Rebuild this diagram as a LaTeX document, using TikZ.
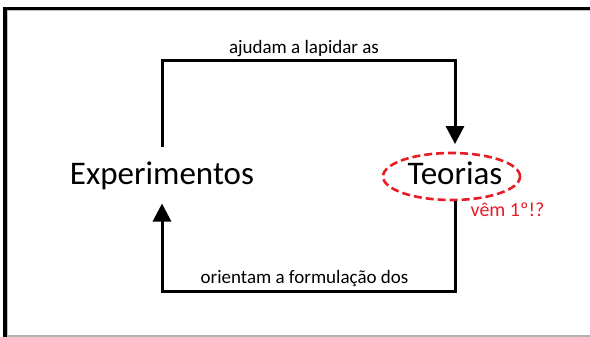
\documentclass[tikz,border=0pt]{standalone}
\usepackage{fontspec}
\setmainfont{Carlito}
\usetikzlibrary{arrows.meta,shapes.geometric}
\definecolor{myred}{RGB}{232,28,36}
\tikzset{
  loopline/.style={line width=3pt, line join=miter},
  tip/.style={-{Triangle[length=18pt,width=18pt]}},
  bigtext/.style={font=\fontsize{33}{40}\selectfont, anchor=base, inner xsep=0pt},
  lbl/.style={font=\fontsize{19}{23}\selectfont, anchor=base, inner sep=0pt},
  frame/.style={line width=3.5pt, black},
}
\begin{document}
\begin{tikzpicture}[x=1pt,y=-1pt]
\useasboundingbox (0,0) rectangle (590,337);
% frame
\draw[gray!60, line width=1.2pt] (5,336) -- (590,336);
\draw[gray!50, line width=0.8pt] (7.2,336) -- (7.2,10.6) -- (590,10.6);
\draw[frame] (4.8,337) -- (4.8,8.5) -- (590,8.5);
% nodes
\node[bigtext, inner ysep=14pt] (exp) at (162,184) {Experimentos};
\node[bigtext, inner ysep=17pt] (teo) at (455,184) {Teorias};
\node[draw=myred, ellipse, dash pattern=on 8pt off 4pt, line width=2.6pt,
      minimum width=137pt, minimum height=47pt, inner sep=0pt] (ell) at (451.5,176.5) {};
\node[font=\fontsize{20}{24}\selectfont, text=myred, anchor=base, inner sep=0pt] (vem) at (507.5,216) {vêm 1º!?};
% connectors
\coordinate (topc) at (304,61);
\coordinate (botc) at (304,291);
\draw[loopline, tip] (exp.north) |- (topc) -| (teo.north);
\draw[loopline, tip] (teo.south) |- (botc) -| (exp.south);
% labels
\node[lbl] (l1) at (304,54) {ajudam a lapidar as};
\node[lbl] (l2) at (304.5,283) {orientam a formulação dos};
\end{tikzpicture}
\end{document}
